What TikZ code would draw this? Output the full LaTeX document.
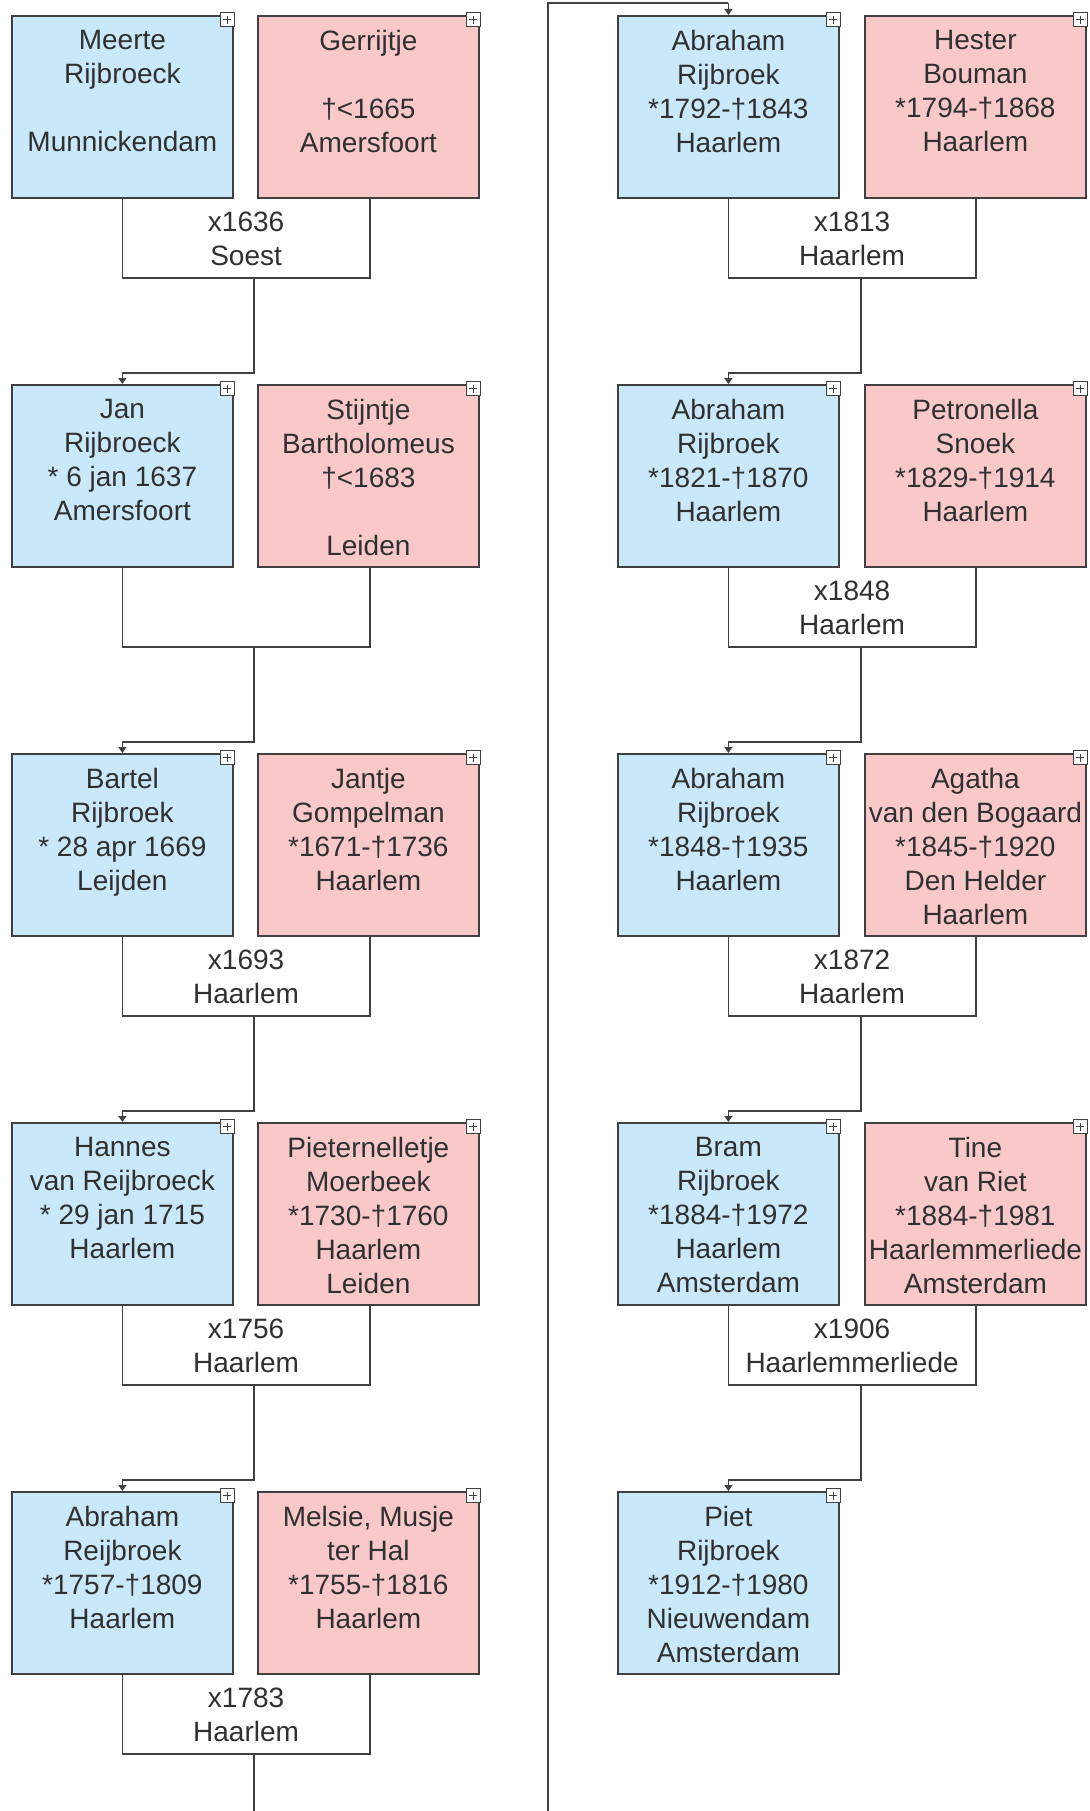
\documentclass[tikz,border=0pt]{standalone}
\usepackage{fontspec}
\setmainfont{Liberation Sans}
\usepackage{tikz}
\usetikzlibrary{arrows.meta,positioning}

\definecolor{manblauw}{HTML}{C9E9FA}
\definecolor{vrouwroze}{HTML}{F9C9C9}
\definecolor{lijngrijs}{HTML}{404040}
\definecolor{tekstgrijs}{HTML}{303030}

\tikzset{
    persoon/.style = {draw = lijngrijs, line width = 1.8pt, anchor = north west,
        minimum width = 221pt, minimum height = 182pt, inner sep = 0pt},
    man/.style = {persoon, fill = manblauw},
    vrouw/.style = {persoon, fill = vrouwroze},
    naam/.style = {anchor = north, align = center, inner sep = 0pt, text = tekstgrijs,
        font = \fontsize{28pt}{34pt}\selectfont},
    huw/.style = {anchor = north west, minimum width = 247pt, minimum height = 79pt,
        align = center, inner sep = 0pt, text = tekstgrijs,
        font = \fontsize{28pt}{34pt}\selectfont},
    plus/.style = {draw = lijngrijs, fill = white, line width = 1.2pt, anchor = north east,
        minimum size = 14pt, inner sep = 0pt,
        path picture = {
            \draw [line width = 1pt] ([xshift=-4pt]path picture bounding box.center)
                -- ([xshift=4pt]path picture bounding box.center);
            \draw [line width = 1pt] ([yshift=-4pt]path picture bounding box.center)
                -- ([yshift=4pt]path picture bounding box.center);
        }},
    lijn/.style = {draw = lijngrijs, line width = 1.8pt},
    pijl/.style = {lijn, -{Triangle[length=6pt, width=8pt]}}
}

% box, tekst en plus-knopje
\newcommand{\persoon}[4]{%
    \node [#2] (#1) at (#3) {};
    \node [naam] at ([yshift=-15pt]#1.north) {#4};
    \node [plus] at ([xshift=1pt, yshift=3pt]#1.north east) {};
}
% huwelijk: open bak onder het paar
\newcommand{\huwelijk}[1]{%
    \draw [lijn] (#1.north west) |- (#1.south east) -- (#1.north east);
}

\begin{document}
\begin{tikzpicture}[x=1pt, y=-1pt]
    \useasboundingbox [fill = white] (0,0) rectangle (1089,1811);

    % linker kolom
    \persoon{meerte}{man}{11,15}{Meerte\\Rijbroeck\\\mbox{}\\Munnickendam}
    \persoon{gerrijtje}{vrouw}{257,15}{Gerrijtje\\\mbox{}\\†<1665\\Amersfoort}
    \node [huw] (h1636) at (meerte.south) {x1636\\Soest};
    \huwelijk{h1636}

    \persoon{jan}{man}{11,384}{Jan\\Rijbroeck\\* 6 jan 1637\\Amersfoort}
    \persoon{stijntje}{vrouw}{257,384}{Stijntje\\Bartholomeus\\†<1683\\\mbox{}\\Leiden}
    \node [huw] (hjan) at (jan.south) {};
    \huwelijk{hjan}

    \persoon{bartel}{man}{11,753}{Bartel\\Rijbroek\\* 28 apr 1669\\Leijden}
    \persoon{jantje}{vrouw}{257,753}{Jantje\\Gompelman\\*1671-†1736\\Haarlem}
    \node [huw] (h1693) at (bartel.south) {x1693\\Haarlem};
    \huwelijk{h1693}

    \persoon{hannes}{man}{11,1122}{Hannes\\van Reijbroeck\\* 29 jan 1715\\Haarlem}
    \persoon{pieternelletje}{vrouw}{257,1122}{Pieternelletje\\Moerbeek\\*1730-†1760\\Haarlem\\Leiden}
    \node [huw] (h1756) at (hannes.south) {x1756\\Haarlem};
    \huwelijk{h1756}

    \persoon{abraham1757}{man}{11,1491}{Abraham\\Reijbroek\\*1757-†1809\\Haarlem}
    \persoon{melsie}{vrouw}{257,1491}{Melsie, Musje\\ter Hal\\*1755-†1816\\Haarlem}
    \node [huw] (h1783) at (abraham1757.south) {x1783\\Haarlem};
    \huwelijk{h1783}

    % rechter kolom
    \persoon{abraham1792}{man}{617,15}{Abraham\\Rijbroek\\*1792-†1843\\Haarlem}
    \persoon{hester}{vrouw}{864,15}{Hester\\Bouman\\*1794-†1868\\Haarlem}
    \node [huw] (h1813) at (abraham1792.south) {x1813\\Haarlem};
    \huwelijk{h1813}

    \persoon{abraham1821}{man}{617,384}{Abraham\\Rijbroek\\*1821-†1870\\Haarlem}
    \persoon{petronella}{vrouw}{864,384}{Petronella\\Snoek\\*1829-†1914\\Haarlem}
    \node [huw] (h1848) at (abraham1821.south) {x1848\\Haarlem};
    \huwelijk{h1848}

    \persoon{abraham1848}{man}{617,753}{Abraham\\Rijbroek\\*1848-†1935\\Haarlem}
    \persoon{agatha}{vrouw}{864,753}{Agatha\\van den Bogaard\\*1845-†1920\\Den Helder\\Haarlem}
    \node [huw] (h1872) at (abraham1848.south) {x1872\\Haarlem};
    \huwelijk{h1872}

    \persoon{bram}{man}{617,1122}{Bram\\Rijbroek\\*1884-†1972\\Haarlem\\Amsterdam}
    \persoon{tine}{vrouw}{864,1122}{Tine\\van Riet\\*1884-†1981\\Haarlemmerliede\\Amsterdam}
    \node [huw] (h1906) at (bram.south) {x1906\\Haarlemmerliede};
    \huwelijk{h1906}

    \persoon{piet}{man}{617,1491}{Piet\\Rijbroek\\*1912-†1980\\Nieuwendam\\Amsterdam}

    % lijnen naar de kinderen
    \draw [lijn] ([xshift=-3pt]h1636.south -| gerrijtje.west) |- ([yshift=11pt]jan.north);
    \draw [pijl] ([yshift=11pt]jan.north) -- (jan.north);
    \draw [lijn] ([xshift=-3pt]hjan.south -| stijntje.west) |- ([yshift=11pt]bartel.north);
    \draw [pijl] ([yshift=11pt]bartel.north) -- (bartel.north);
    \draw [lijn] ([xshift=-3pt]h1693.south -| jantje.west) |- ([yshift=11pt]hannes.north);
    \draw [pijl] ([yshift=11pt]hannes.north) -- (hannes.north);
    \draw [lijn] ([xshift=-3pt]h1756.south -| pieternelletje.west) |- ([yshift=11pt]abraham1757.north);
    \draw [pijl] ([yshift=11pt]abraham1757.north) -- (abraham1757.north);

    % doorloop naar de rechter kolom
    \coordinate (onder) at (548,1811);
    \coordinate (boven) at (548,3);
    \draw [lijn] ([xshift=-3pt]h1783.south -| melsie.west) -- ([xshift=-3pt]onder -| melsie.west);
    \draw [lijn] (onder) -- (boven) -| ([yshift=12pt]abraham1792.north);
    \draw [pijl] ([yshift=12pt]abraham1792.north) -- (abraham1792.north);

    \draw [lijn] ([xshift=-3pt]h1813.south -| hester.west) |- ([yshift=11pt]abraham1821.north);
    \draw [pijl] ([yshift=11pt]abraham1821.north) -- (abraham1821.north);
    \draw [lijn] ([xshift=-3pt]h1848.south -| petronella.west) |- ([yshift=11pt]abraham1848.north);
    \draw [pijl] ([yshift=11pt]abraham1848.north) -- (abraham1848.north);
    \draw [lijn] ([xshift=-3pt]h1872.south -| agatha.west) |- ([yshift=11pt]bram.north);
    \draw [pijl] ([yshift=11pt]bram.north) -- (bram.north);
    \draw [lijn] ([xshift=-3pt]h1906.south -| tine.west) |- ([yshift=11pt]piet.north);
    \draw [pijl] ([yshift=11pt]piet.north) -- (piet.north);
\end{tikzpicture}
\end{document}
